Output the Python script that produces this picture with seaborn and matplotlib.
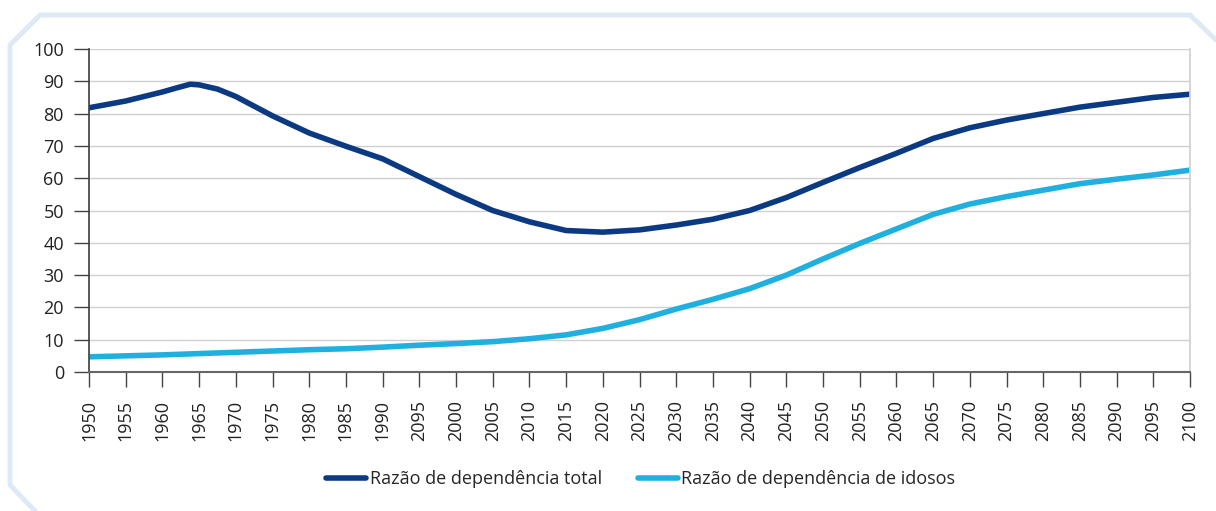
import numpy as np
import pandas as pd
import matplotlib.pyplot as plt
import seaborn as sns
from matplotlib.lines import Line2D

years = list(range(1950, 2101, 5))
tick_labels = [str(y) for y in years]
tick_labels[9] = "2095"  # as printed in the original

# total series gets a few extra readings around the 1963/64 peak
total_years = [1950, 1955, 1960, 1962, 1963.8, 1965, 1967.5] + years[4:]
total = [81.8, 83.9, 86.7, 88.0, 89.1, 88.9, 87.6, 85.3, 79.3, 74.0, 69.9, 66.0, 60.5,
         55.0, 50.0, 46.5, 43.8, 43.3, 44.0, 45.5, 47.3, 50.0, 54.0,
         58.7, 63.3, 67.7, 72.3, 75.6, 78.0, 80.0, 82.0, 83.5, 85.0, 86.0]
idosos = [4.7, 5.0, 5.3, 5.7, 6.1, 6.5, 6.9, 7.2, 7.7, 8.3,
          8.8, 9.4, 10.3, 11.5, 13.5, 16.2, 19.5, 22.5, 25.8, 30.0,
          35.0, 39.8, 44.3, 48.8, 52.0, 54.3, 56.3, 58.3, 59.7, 61.0, 62.5]

series_names = ["Razão de dependência total", "Razão de dependência de idosos"]
colors = ["#0b3a82", "#1fb0e0"]

df = pd.concat([
    pd.DataFrame({"ano": total_years, "valor": total, "serie": series_names[0]}),
    pd.DataFrame({"ano": years, "valor": idosos, "serie": series_names[1]}),
])

sns.set_theme(style="white")
plt.rcParams["font.family"] = ["Open Sans", "DejaVu Sans"]

W, H = 1216, 511
fig = plt.figure(figsize=(W / 100, H / 100), dpi=100)
ax = fig.add_axes([89 / W, 1 - 372 / H, (1190 - 89) / W, (372 - 49) / H])

sns.lineplot(data=df, x="ano", y="valor", hue="serie", palette=colors,
             linewidth=4, ax=ax, legend=False)
for ln in ax.get_lines():
    ln.set_solid_capstyle("round")
    ln.set_solid_joinstyle("round")

ax.set_xlim(1950, 2100)
ax.set_ylim(0, 100)
ax.set_yticks(range(0, 101, 10))
ax.set_xticks(years)
ax.set_xticklabels(tick_labels, rotation=90)
ax.set_xlabel("")
ax.set_ylabel("")
ax.yaxis.grid(True, color="#d0d0d0", linewidth=1)
ax.set_axisbelow(True)

ax.spines["top"].set_visible(False)
ax.spines["right"].set_color("#d0d0d0")
ax.spines["left"].set_color("#444444")
ax.spines["bottom"].set_color("#666666")
ax.spines["bottom"].set_linewidth(1.5)
ax.tick_params(axis="y", length=11, width=1, color="#444444", pad=7,
               labelsize=13, labelcolor="#222222", left=True)
ax.tick_params(axis="x", length=11, width=1, color="#444444", pad=9,
               labelsize=13, labelcolor="#222222", bottom=True)

handles = [Line2D([0], [0], color=c, linewidth=4, solid_capstyle="round")
           for c in colors]
fig.legend(handles, series_names, loc="center", bbox_to_anchor=(0.527, 1 - 479 / H),
           ncol=2, frameon=False, fontsize=13, handlelength=2.2,
           handletextpad=0.2, columnspacing=2.0)

# light blue decorative frame with cut corners
frame_col = "#dde9f5"
frame_pts = [(1216, 40), (1190, 15), (40, 15), (10, 45), (10, 485), (35, 511)]
fx = [p[0] / W for p in frame_pts]
fy = [1 - p[1] / H for p in frame_pts]
fig.add_artist(Line2D(fx, fy, color=frame_col, linewidth=3.5,
                      transform=fig.transFigure))

fig.savefig("out.png", dpi=100)
